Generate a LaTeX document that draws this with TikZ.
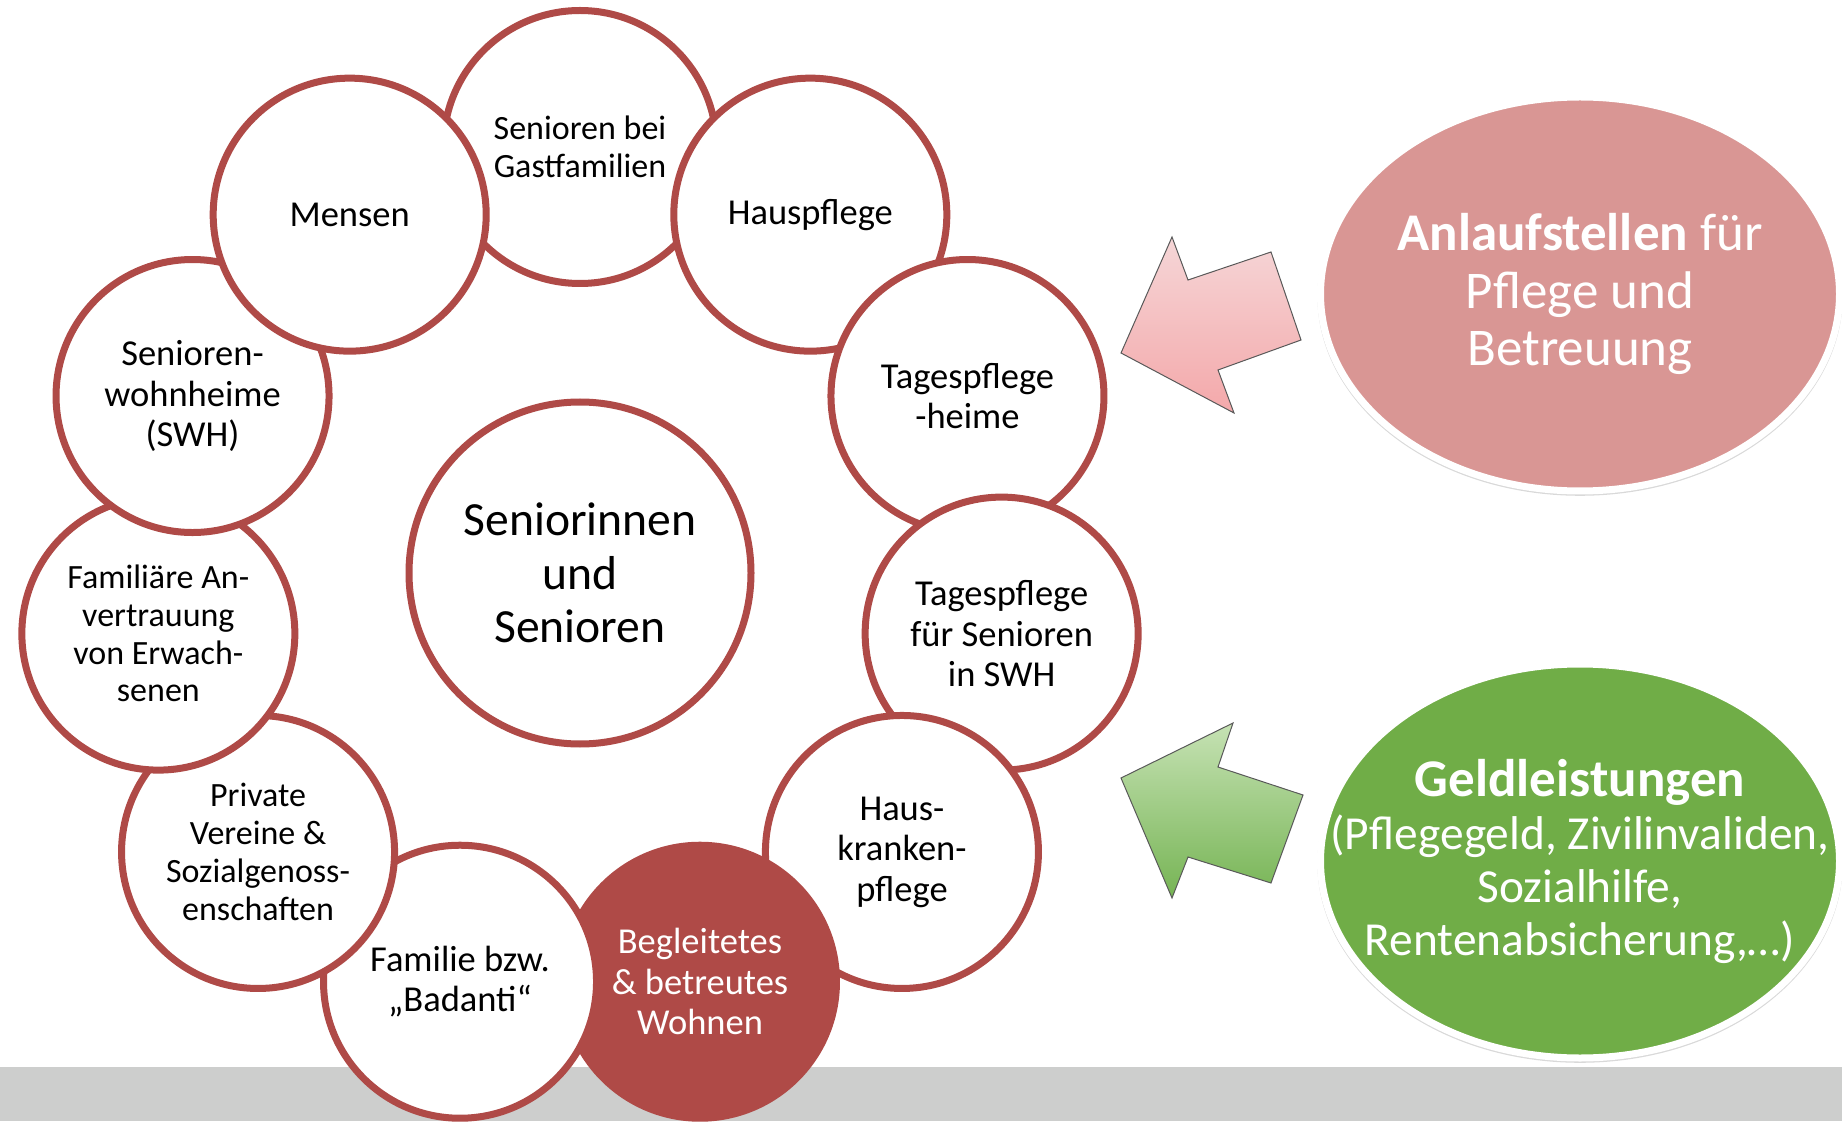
\documentclass[tikz,border=0pt]{standalone}
\usepackage{fontspec}
\setmainfont{Carlito}
\usetikzlibrary{shapes.geometric,shadows}
\definecolor{ringred}{RGB}{175,74,71}
\definecolor{rosefill}{RGB}{217,150,148}
\definecolor{leaffill}{RGB}{112,173,71}
\definecolor{barfill}{RGB}{205,206,205}
\begin{document}
\begin{tikzpicture}[x=0.5pt,y=0.5pt,
  ring/.style={circle,draw=ringred,line width=3.5pt,fill=white,minimum size=136.5pt,
    inner sep=0pt,align=center,font=\fontsize{18.25}{20.25}\selectfont},
  ringsmall/.style={ring,font=\fontsize{17}{18.9}\selectfont},
  ringfilled/.style={ring,fill=ringred,text=white},
  hub/.style={circle,draw=ringred,line width=3.5pt,fill=white,minimum size=171pt,
    inner sep=0pt,align=center,font=\fontsize{23.8}{26.7}\selectfont},
  source/.style={ellipse,draw=white,line width=3.5pt,minimum width=259.5pt,minimum height=197pt,
    inner xsep=-60pt,inner ysep=0pt,align=center,text=white,
    drop shadow={shadow scale=1.012,shadow xshift=0pt,shadow yshift=-1.2pt,opacity=0.3}},
  blockarrow/.style={draw=black!65,line width=0.5pt}]
\useasboundingbox (0,0) rectangle (1842,1121);
\fill[barfill] (0,0) rectangle (1842,54);
\coordinate (O) at (580,548);
% centre
\node[hub] (senioren) at (O) {Seniorinnen\\und\\Senioren};
% ring, drawn clockwise from the top
\node[ringsmall] (gast) at ([shift={(90:426)}]O) {Senioren bei\\Gastfamilien};
\node[ring] (hauspflege) at ([shift={(57.27:426)}]O) {Hauspflege};
\node[ring] (tagesheim) at ([shift={(24.55:426)}]O) {Tagespflege\\-heime};
\node[ring] (tagesswh) at ([shift={(-8.18:426)}]O) {Tagespflege\\für Senioren\\in SWH};
\node[ring] (hkp) at ([shift={(-40.91:426)}]O) {Haus-\\kranken-\\pflege};
\node[ringfilled] (wohnen) at ([shift={(-73.64:426)}]O) {Begleitetes\\\& betreutes\\Wohnen};
\node[ring] (familie) at ([shift={(-106.36:426)}]O) {Familie bzw.\\„Badanti“};
\node[ringsmall] (vereine) at ([shift={(-139.09:426)}]O) {Private\\Vereine \&\\Sozialgenoss-\\enschaften};
\node[ringsmall] (anvertr) at ([shift={(-171.82:426)}]O) {Familiäre An-\\vertrauung\\von Erwach-\\senen};
\node[ring] (swh) at ([shift={(155.45:426)}]O) {Senioren-\\wohnheime\\(SWH)};
\node[ring] (mensen) at ([shift={(122.73:426)}]O) {Mensen};
% right side
\node[source,fill=rosefill,font=\fontsize{26.5}{28.8}\selectfont] (anlauf) at (1580,827)
  {\textbf{Anlaufstellen} für\\Pflege und\\Betreuung};
\node[source,fill=leaffill,font=\fontsize{23.7}{26.5}\selectfont] (geld) at (1580,260)
  {{\fontsize{26.5}{26.5}\selectfont\textbf{Geldleistungen}}\\(Pflegegeld, Zivilinvaliden,\\Sozialhilfe,\\Rentenabsicherung,…)};
\draw[blockarrow,top color={rgb,255:red,245;green,214;blue,215},bottom color={rgb,255:red,244;green,168;blue,170}]
  (1121,768) -- (1172,884) -- (1188,841) -- (1271,869) -- (1301,781) -- (1218,751) -- (1234,708) -- cycle;
\draw[blockarrow,top color={rgb,255:red,198;green,226;blue,180},bottom color={rgb,255:red,118;green,180;blue,84}]
  (1121,343) -- (1233,398) -- (1218,354) -- (1303,326) -- (1271,238) -- (1188,264) -- (1172,223) -- cycle;
\end{tikzpicture}
\end{document}
